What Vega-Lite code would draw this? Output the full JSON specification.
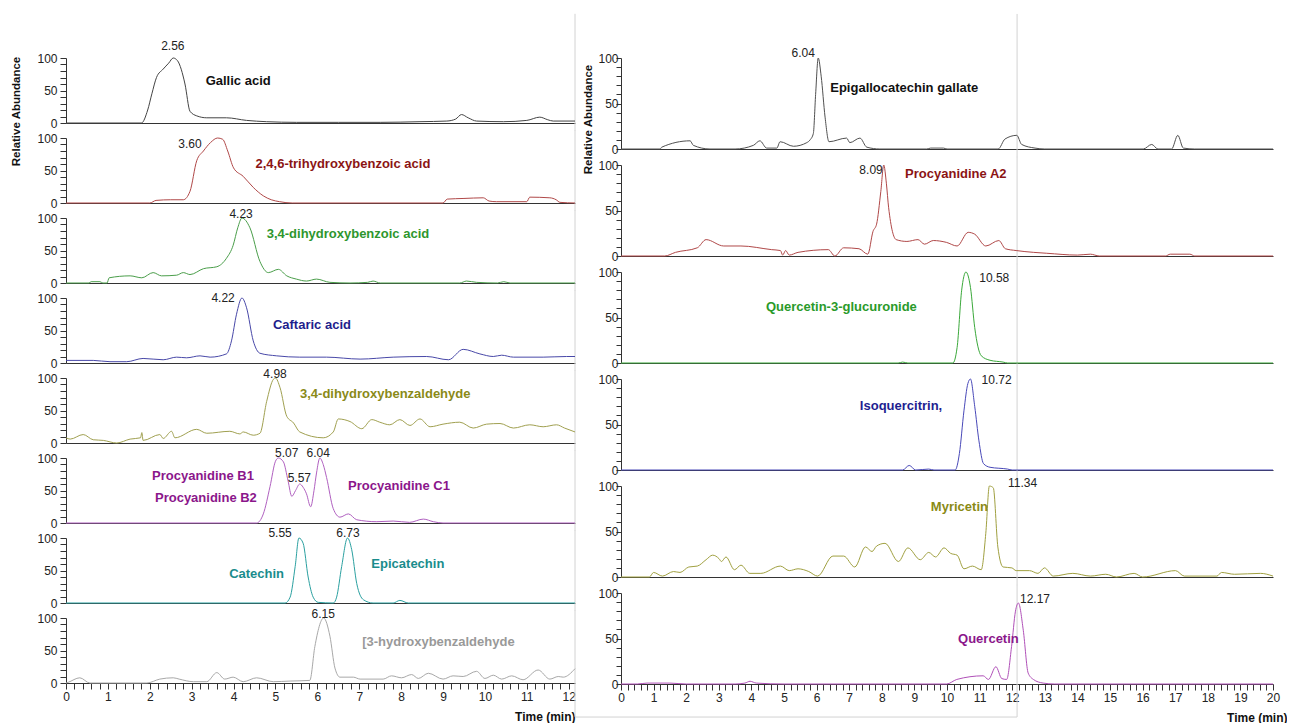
{
"$schema":"https://vega.github.io/schema/vega-lite/v6.json",
"background":"white",
"padding":{"left":10,"top":13,"right":0,"bottom":0},
"spacing":-3,
"datasets":{
"fr":[
{"p":"g1","t":12.15,"a":-12,"b":168,"t2":12.15},{"p":"g2","t":12.15,"a":-12,"b":112,"t2":12.15},{"p":"g3","t":12.15,"a":-12,"b":112,"t2":12.15},{"p":"g4","t":12.15,"a":-12,"b":112,"t2":12.15},{"p":"g5","t":12.15,"a":-12,"b":112,"t2":12.15},{"p":"g6","t":12.15,"a":-12,"b":112,"t2":12.15},{"p":"g7","t":12.15,"a":-12,"b":112,"t2":12.15},{"p":"g8","t":12.15,"a":-52,"b":112,"t2":12.15},
{"p":"r1","t":12.15,"a":-9,"b":148.4,"t2":12.15},{"p":"r2","t":12.15,"a":-9,"b":109,"t2":12.15},{"p":"r3","t":12.15,"a":-9,"b":109,"t2":12.15},{"p":"r4","t":12.15,"a":-9,"b":109,"t2":12.15},{"p":"r5","t":12.15,"a":-9,"b":109,"t2":12.15},{"p":"r6","t":12.15,"a":-36.3,"b":109,"t2":12.15},{"p":"r6","t":-1.41,"a":-36.3,"b":-36.3,"t2":12.15}
],
"tr":[
{"s":"g1","t":0,"v":0},{"s":"g1","t":1.8,"v":0},{"s":"g1","t":1.95,"v":20},{"s":"g1","t":2.05,"v":45},{"s":"g1","t":2.16,"v":70},{"s":"g1","t":2.32,"v":83},{"s":"g1","t":2.45,"v":92},{"s":"g1","t":2.56,"v":100},{"s":"g1","t":2.66,"v":96},{"s":"g1","t":2.84,"v":60},{"s":"g1","t":2.96,"v":18},{"s":"g1","t":3.12,"v":11},{"s":"g1","t":3.36,"v":8},{"s":"g1","t":3.83,"v":8},{"s":"g1","t":4.31,"v":4},{"s":"g1","t":4.79,"v":2},{"s":"g1","t":5.5,"v":1},{"s":"g1","t":6.5,"v":1},{"s":"g1","t":7.5,"v":1},{"s":"g1","t":8.45,"v":2},{"s":"g1","t":9.09,"v":3},{"s":"g1","t":9.3,"v":6},{"s":"g1","t":9.44,"v":13},{"s":"g1","t":9.6,"v":8},{"s":"g1","t":9.8,"v":3},{"s":"g1","t":10.44,"v":2},{"s":"g1","t":11.0,"v":4},{"s":"g1","t":11.31,"v":9},{"s":"g1","t":11.5,"v":5},{"s":"g1","t":11.63,"v":3},{"s":"g1","t":12.15,"v":3},
{"s":"g2","t":0,"v":0},{"s":"g2","t":2.0,"v":0},{"s":"g2","t":2.15,"v":4},{"s":"g2","t":2.5,"v":5},{"s":"g2","t":2.8,"v":5},{"s":"g2","t":2.96,"v":18},{"s":"g2","t":3.12,"v":65},{"s":"g2","t":3.28,"v":80},{"s":"g2","t":3.45,"v":93},{"s":"g2","t":3.62,"v":100},{"s":"g2","t":3.74,"v":98},{"s":"g2","t":3.86,"v":80},{"s":"g2","t":4.0,"v":54},{"s":"g2","t":4.23,"v":41},{"s":"g2","t":4.47,"v":24},{"s":"g2","t":4.71,"v":11},{"s":"g2","t":4.9,"v":5},{"s":"g2","t":5.1,"v":2},{"s":"g2","t":5.4,"v":0},{"s":"g2","t":9.0,"v":0},{"s":"g2","t":9.1,"v":6},{"s":"g2","t":9.5,"v":7},{"s":"g2","t":9.96,"v":8},{"s":"g2","t":10.1,"v":3},{"s":"g2","t":10.28,"v":2},{"s":"g2","t":11.0,"v":2},{"s":"g2","t":11.07,"v":9},{"s":"g2","t":11.55,"v":8},{"s":"g2","t":11.7,"v":5},{"s":"g2","t":11.79,"v":1},{"s":"g2","t":12.15,"v":0},
{"s":"g3","t":0,"v":0},{"s":"g3","t":0.55,"v":0},{"s":"g3","t":0.6,"v":2},{"s":"g3","t":0.81,"v":2},{"s":"g3","t":0.88,"v":0},{"s":"g3","t":0.98,"v":0},{"s":"g3","t":1.03,"v":8},{"s":"g3","t":1.53,"v":11},{"s":"g3","t":1.81,"v":8},{"s":"g3","t":2.08,"v":16},{"s":"g3","t":2.28,"v":11},{"s":"g3","t":2.64,"v":12},{"s":"g3","t":2.8,"v":16},{"s":"g3","t":2.96,"v":13},{"s":"g3","t":3.28,"v":22},{"s":"g3","t":3.6,"v":25},{"s":"g3","t":3.83,"v":38},{"s":"g3","t":3.99,"v":58},{"s":"g3","t":4.1,"v":85},{"s":"g3","t":4.2,"v":100},{"s":"g3","t":4.39,"v":85},{"s":"g3","t":4.63,"v":33},{"s":"g3","t":4.83,"v":16},{"s":"g3","t":5.07,"v":21},{"s":"g3","t":5.27,"v":11},{"s":"g3","t":5.5,"v":6},{"s":"g3","t":5.74,"v":3},{"s":"g3","t":5.98,"v":6},{"s":"g3","t":6.3,"v":1},{"s":"g3","t":6.78,"v":0},{"s":"g3","t":7.2,"v":1},{"s":"g3","t":7.33,"v":3},{"s":"g3","t":7.5,"v":0},{"s":"g3","t":9.4,"v":0},{"s":"g3","t":9.56,"v":3},{"s":"g3","t":9.8,"v":1},{"s":"g3","t":10.3,"v":0},{"s":"g3","t":10.45,"v":2},{"s":"g3","t":10.6,"v":0},{"s":"g3","t":12.15,"v":0},
{"s":"g4","t":0,"v":4},{"s":"g4","t":0.65,"v":4},{"s":"g4","t":1.05,"v":2},{"s":"g4","t":1.45,"v":2},{"s":"g4","t":1.84,"v":7},{"s":"g4","t":2.32,"v":5},{"s":"g4","t":2.64,"v":9},{"s":"g4","t":2.88,"v":8},{"s":"g4","t":3.2,"v":11},{"s":"g4","t":3.44,"v":9},{"s":"g4","t":3.83,"v":14},{"s":"g4","t":3.95,"v":34},{"s":"g4","t":4.07,"v":75},{"s":"g4","t":4.2,"v":100},{"s":"g4","t":4.31,"v":85},{"s":"g4","t":4.47,"v":34},{"s":"g4","t":4.63,"v":15},{"s":"g4","t":5.03,"v":11},{"s":"g4","t":5.58,"v":9},{"s":"g4","t":6.22,"v":9},{"s":"g4","t":7.02,"v":6},{"s":"g4","t":7.81,"v":9},{"s":"g4","t":8.61,"v":10},{"s":"g4","t":9.13,"v":5},{"s":"g4","t":9.48,"v":21},{"s":"g4","t":9.88,"v":14},{"s":"g4","t":10.2,"v":10},{"s":"g4","t":10.4,"v":12},{"s":"g4","t":10.68,"v":9},{"s":"g4","t":11.39,"v":9},{"s":"g4","t":11.95,"v":10},{"s":"g4","t":12.15,"v":10},
{"s":"g5","t":0,"v":8},{"s":"g5","t":0.1,"v":6},{"s":"g5","t":0.41,"v":13},{"s":"g5","t":0.65,"v":5},{"s":"g5","t":0.89,"v":4},{"s":"g5","t":1.21,"v":0},{"s":"g5","t":1.53,"v":6},{"s":"g5","t":1.78,"v":8},{"s":"g5","t":1.81,"v":16},{"s":"g5","t":1.84,"v":4},{"s":"g5","t":2.24,"v":13},{"s":"g5","t":2.32,"v":7},{"s":"g5","t":2.52,"v":18},{"s":"g5","t":2.6,"v":8},{"s":"g5","t":3.12,"v":21},{"s":"g5","t":3.36,"v":15},{"s":"g5","t":3.91,"v":18},{"s":"g5","t":4.15,"v":14},{"s":"g5","t":4.23,"v":17},{"s":"g5","t":4.47,"v":12},{"s":"g5","t":4.63,"v":15},{"s":"g5","t":4.79,"v":64},{"s":"g5","t":4.95,"v":98},{"s":"g5","t":5.0,"v":100},{"s":"g5","t":5.11,"v":85},{"s":"g5","t":5.27,"v":41},{"s":"g5","t":5.43,"v":31},{"s":"g5","t":5.58,"v":17},{"s":"g5","t":6.14,"v":8},{"s":"g5","t":6.38,"v":17},{"s":"g5","t":6.5,"v":37},{"s":"g5","t":6.78,"v":33},{"s":"g5","t":7.06,"v":22},{"s":"g5","t":7.3,"v":36},{"s":"g5","t":7.49,"v":32},{"s":"g5","t":7.73,"v":28},{"s":"g5","t":7.97,"v":36},{"s":"g5","t":8.21,"v":27},{"s":"g5","t":8.45,"v":37},{"s":"g5","t":8.69,"v":25},{"s":"g5","t":9.0,"v":29},{"s":"g5","t":9.4,"v":32},{"s":"g5","t":9.72,"v":23},{"s":"g5","t":10.04,"v":29},{"s":"g5","t":10.36,"v":30},{"s":"g5","t":10.68,"v":23},{"s":"g5","t":11.07,"v":28},{"s":"g5","t":11.39,"v":25},{"s":"g5","t":11.71,"v":28},{"s":"g5","t":11.9,"v":23},{"s":"g5","t":12.15,"v":17},
{"s":"g6","t":0,"v":0},{"s":"g6","t":4.55,"v":0},{"s":"g6","t":4.71,"v":14},{"s":"g6","t":4.87,"v":56},{"s":"g6","t":5.0,"v":95},{"s":"g6","t":5.07,"v":100},{"s":"g6","t":5.19,"v":94},{"s":"g6","t":5.3,"v":65},{"s":"g6","t":5.39,"v":41},{"s":"g6","t":5.48,"v":50},{"s":"g6","t":5.58,"v":60},{"s":"g6","t":5.66,"v":55},{"s":"g6","t":5.74,"v":45},{"s":"g6","t":5.84,"v":25},{"s":"g6","t":5.92,"v":50},{"s":"g6","t":5.98,"v":77},{"s":"g6","t":6.06,"v":100},{"s":"g6","t":6.14,"v":90},{"s":"g6","t":6.22,"v":70},{"s":"g6","t":6.38,"v":22},{"s":"g6","t":6.54,"v":9},{"s":"g6","t":6.74,"v":14},{"s":"g6","t":6.94,"v":5},{"s":"g6","t":7.42,"v":2},{"s":"g6","t":7.81,"v":3},{"s":"g6","t":8.2,"v":1},{"s":"g6","t":8.53,"v":6},{"s":"g6","t":8.77,"v":2},{"s":"g6","t":9.0,"v":0},{"s":"g6","t":12.15,"v":0},
{"s":"g7","t":0,"v":0},{"s":"g7","t":5.23,"v":0},{"s":"g7","t":5.35,"v":9},{"s":"g7","t":5.47,"v":56},{"s":"g7","t":5.56,"v":100},{"s":"g7","t":5.66,"v":92},{"s":"g7","t":5.78,"v":40},{"s":"g7","t":5.9,"v":9},{"s":"g7","t":6.02,"v":1},{"s":"g7","t":6.38,"v":0},{"s":"g7","t":6.46,"v":9},{"s":"g7","t":6.58,"v":56},{"s":"g7","t":6.72,"v":100},{"s":"g7","t":6.82,"v":82},{"s":"g7","t":6.94,"v":30},{"s":"g7","t":7.1,"v":5},{"s":"g7","t":7.33,"v":0},{"s":"g7","t":7.81,"v":0},{"s":"g7","t":7.97,"v":4},{"s":"g7","t":8.17,"v":0},{"s":"g7","t":12.15,"v":0},
{"s":"g8","t":0,"v":0},{"s":"g8","t":0.05,"v":1},{"s":"g8","t":0.33,"v":8},{"s":"g8","t":0.57,"v":0},{"s":"g8","t":1.93,"v":0},{"s":"g8","t":2.24,"v":6},{"s":"g8","t":2.56,"v":8},{"s":"g8","t":2.7,"v":6},{"s":"g8","t":3.04,"v":2},{"s":"g8","t":3.36,"v":2},{"s":"g8","t":3.6,"v":16},{"s":"g8","t":3.79,"v":6},{"s":"g8","t":3.99,"v":9},{"s":"g8","t":4.23,"v":2},{"s":"g8","t":4.55,"v":8},{"s":"g8","t":4.95,"v":2},{"s":"g8","t":5.35,"v":3},{"s":"g8","t":5.82,"v":4},{"s":"g8","t":5.94,"v":56},{"s":"g8","t":6.15,"v":100},{"s":"g8","t":6.3,"v":72},{"s":"g8","t":6.42,"v":23},{"s":"g8","t":6.54,"v":9},{"s":"g8","t":6.86,"v":9},{"s":"g8","t":7.02,"v":6},{"s":"g8","t":7.57,"v":6},{"s":"g8","t":7.77,"v":11},{"s":"g8","t":8.01,"v":8},{"s":"g8","t":8.25,"v":13},{"s":"g8","t":8.41,"v":7},{"s":"g8","t":8.65,"v":15},{"s":"g8","t":9.0,"v":6},{"s":"g8","t":9.24,"v":11},{"s":"g8","t":9.48,"v":10},{"s":"g8","t":9.8,"v":18},{"s":"g8","t":10.0,"v":7},{"s":"g8","t":10.2,"v":12},{"s":"g8","t":10.4,"v":6},{"s":"g8","t":10.64,"v":11},{"s":"g8","t":10.91,"v":5},{"s":"g8","t":11.27,"v":20},{"s":"g8","t":11.55,"v":6},{"s":"g8","t":11.75,"v":10},{"s":"g8","t":11.87,"v":9},{"s":"g8","t":12.15,"v":22},
{"s":"r1","t":0,"v":0},{"s":"r1","t":1.2,"v":0},{"s":"r1","t":1.25,"v":2},{"s":"r1","t":2.12,"v":9},{"s":"r1","t":2.22,"v":4},{"s":"r1","t":2.73,"v":0},{"s":"r1","t":3.5,"v":0},{"s":"r1","t":4.06,"v":4},{"s":"r1","t":4.26,"v":9},{"s":"r1","t":4.47,"v":1},{"s":"r1","t":4.78,"v":1},{"s":"r1","t":4.88,"v":8},{"s":"r1","t":5.29,"v":3},{"s":"r1","t":5.7,"v":7},{"s":"r1","t":5.8,"v":10},{"s":"r1","t":5.9,"v":17},{"s":"r1","t":5.97,"v":60},{"s":"r1","t":6.05,"v":100},{"s":"r1","t":6.14,"v":80},{"s":"r1","t":6.26,"v":35},{"s":"r1","t":6.38,"v":8},{"s":"r1","t":6.92,"v":12},{"s":"r1","t":7.02,"v":7},{"s":"r1","t":7.33,"v":12},{"s":"r1","t":7.54,"v":2},{"s":"r1","t":7.94,"v":0},{"s":"r1","t":9.38,"v":0},{"s":"r1","t":9.5,"v":1},{"s":"r1","t":9.89,"v":1},{"s":"r1","t":10.0,"v":0},{"s":"r1","t":11.57,"v":0},{"s":"r1","t":11.78,"v":11},{"s":"r1","t":12.14,"v":15},{"s":"r1","t":12.29,"v":5},{"s":"r1","t":12.7,"v":1},{"s":"r1","t":13.0,"v":0},{"s":"r1","t":16.02,"v":0},{"s":"r1","t":16.28,"v":5},{"s":"r1","t":16.47,"v":0},{"s":"r1","t":16.89,"v":0},{"s":"r1","t":17.08,"v":15},{"s":"r1","t":17.25,"v":1},{"s":"r1","t":17.6,"v":0},{"s":"r1","t":20,"v":0},
{"s":"r2","t":0,"v":0},{"s":"r2","t":1.34,"v":0},{"s":"r2","t":1.67,"v":4},{"s":"r2","t":2.34,"v":9},{"s":"r2","t":2.61,"v":18},{"s":"r2","t":3.15,"v":11},{"s":"r2","t":3.68,"v":11},{"s":"r2","t":4.62,"v":7},{"s":"r2","t":4.89,"v":6},{"s":"r2","t":4.96,"v":1},{"s":"r2","t":5.05,"v":6},{"s":"r2","t":5.16,"v":1},{"s":"r2","t":5.43,"v":4},{"s":"r2","t":6.36,"v":7},{"s":"r2","t":6.56,"v":0},{"s":"r2","t":6.83,"v":9},{"s":"r2","t":7.3,"v":8},{"s":"r2","t":7.57,"v":2},{"s":"r2","t":7.73,"v":27},{"s":"r2","t":7.84,"v":35},{"s":"r2","t":7.97,"v":71},{"s":"r2","t":8.06,"v":100},{"s":"r2","t":8.14,"v":80},{"s":"r2","t":8.21,"v":53},{"s":"r2","t":8.44,"v":18},{"s":"r2","t":8.77,"v":16},{"s":"r2","t":9.11,"v":18},{"s":"r2","t":9.31,"v":13},{"s":"r2","t":9.58,"v":17},{"s":"r2","t":9.98,"v":15},{"s":"r2","t":10.31,"v":11},{"s":"r2","t":10.65,"v":26},{"s":"r2","t":10.85,"v":24},{"s":"r2","t":11.19,"v":11},{"s":"r2","t":11.59,"v":17},{"s":"r2","t":11.79,"v":8},{"s":"r2","t":12.12,"v":6},{"s":"r2","t":12.66,"v":4},{"s":"r2","t":13.06,"v":3},{"s":"r2","t":14.0,"v":1},{"s":"r2","t":14.4,"v":2},{"s":"r2","t":14.67,"v":0},{"s":"r2","t":16.7,"v":0},{"s":"r2","t":16.85,"v":2},{"s":"r2","t":17.45,"v":2},{"s":"r2","t":17.6,"v":0},{"s":"r2","t":20,"v":0},
{"s":"r3","t":0,"v":0},{"s":"r3","t":8.5,"v":0},{"s":"r3","t":8.64,"v":1},{"s":"r3","t":8.8,"v":0},{"s":"r3","t":10.18,"v":0},{"s":"r3","t":10.31,"v":17},{"s":"r3","t":10.45,"v":80},{"s":"r3","t":10.58,"v":100},{"s":"r3","t":10.72,"v":83},{"s":"r3","t":10.85,"v":39},{"s":"r3","t":11.05,"v":8},{"s":"r3","t":11.32,"v":3},{"s":"r3","t":11.72,"v":1},{"s":"r3","t":11.86,"v":0},{"s":"r3","t":20,"v":0},
{"s":"r4","t":0,"v":0},{"s":"r4","t":8.64,"v":0},{"s":"r4","t":8.84,"v":5},{"s":"r4","t":9.04,"v":0},{"s":"r4","t":9.44,"v":1},{"s":"r4","t":9.6,"v":0},{"s":"r4","t":10.25,"v":0},{"s":"r4","t":10.38,"v":18},{"s":"r4","t":10.52,"v":65},{"s":"r4","t":10.64,"v":95},{"s":"r4","t":10.72,"v":100},{"s":"r4","t":10.85,"v":70},{"s":"r4","t":10.98,"v":32},{"s":"r4","t":11.12,"v":7},{"s":"r4","t":11.32,"v":3},{"s":"r4","t":11.86,"v":1},{"s":"r4","t":12.0,"v":0},{"s":"r4","t":20,"v":0},
{"s":"r5","t":0,"v":0},{"s":"r5","t":0.87,"v":0},{"s":"r5","t":1.0,"v":5},{"s":"r5","t":1.27,"v":1},{"s":"r5","t":1.61,"v":6},{"s":"r5","t":1.81,"v":5},{"s":"r5","t":2.08,"v":11},{"s":"r5","t":2.34,"v":12},{"s":"r5","t":2.61,"v":19},{"s":"r5","t":2.81,"v":24},{"s":"r5","t":3.01,"v":20},{"s":"r5","t":3.08,"v":17},{"s":"r5","t":3.22,"v":22},{"s":"r5","t":3.48,"v":8},{"s":"r5","t":3.68,"v":13},{"s":"r5","t":3.95,"v":4},{"s":"r5","t":4.29,"v":4},{"s":"r5","t":4.89,"v":12},{"s":"r5","t":5.16,"v":7},{"s":"r5","t":5.43,"v":9},{"s":"r5","t":5.76,"v":6},{"s":"r5","t":6.03,"v":1},{"s":"r5","t":6.5,"v":23},{"s":"r5","t":6.83,"v":23},{"s":"r5","t":7.17,"v":11},{"s":"r5","t":7.5,"v":33},{"s":"r5","t":7.7,"v":28},{"s":"r5","t":7.84,"v":34},{"s":"r5","t":8.1,"v":37},{"s":"r5","t":8.51,"v":17},{"s":"r5","t":8.8,"v":32},{"s":"r5","t":9.18,"v":19},{"s":"r5","t":9.44,"v":27},{"s":"r5","t":9.65,"v":22},{"s":"r5","t":9.91,"v":32},{"s":"r5","t":10.11,"v":26},{"s":"r5","t":10.31,"v":24},{"s":"r5","t":10.52,"v":9},{"s":"r5","t":10.78,"v":12},{"s":"r5","t":11.05,"v":8},{"s":"r5","t":11.19,"v":48},{"s":"r5","t":11.3,"v":100},{"s":"r5","t":11.42,"v":98},{"s":"r5","t":11.56,"v":33},{"s":"r5","t":11.72,"v":11},{"s":"r5","t":11.99,"v":10},{"s":"r5","t":12.12,"v":7},{"s":"r5","t":12.53,"v":7},{"s":"r5","t":12.79,"v":4},{"s":"r5","t":12.99,"v":10},{"s":"r5","t":13.26,"v":1},{"s":"r5","t":13.86,"v":4},{"s":"r5","t":14.4,"v":1},{"s":"r5","t":14.87,"v":3},{"s":"r5","t":15.2,"v":0},{"s":"r5","t":15.74,"v":4},{"s":"r5","t":16.0,"v":0},{"s":"r5","t":17.01,"v":7},{"s":"r5","t":17.28,"v":1},{"s":"r5","t":18.28,"v":1},{"s":"r5","t":18.42,"v":5},{"s":"r5","t":18.82,"v":3},{"s":"r5","t":19.62,"v":4},{"s":"r5","t":20,"v":1},
{"s":"r6","t":0,"v":0},{"s":"r6","t":0.5,"v":0},{"s":"r6","t":0.8,"v":1},{"s":"r6","t":1.5,"v":1},{"s":"r6","t":2.0,"v":0},{"s":"r6","t":3.5,"v":0},{"s":"r6","t":3.8,"v":1},{"s":"r6","t":3.96,"v":3},{"s":"r6","t":4.15,"v":1},{"s":"r6","t":5.0,"v":0},{"s":"r6","t":9.99,"v":0},{"s":"r6","t":10.3,"v":5},{"s":"r6","t":11.11,"v":9},{"s":"r6","t":11.27,"v":5},{"s":"r6","t":11.5,"v":19},{"s":"r6","t":11.68,"v":6},{"s":"r6","t":11.83,"v":5},{"s":"r6","t":11.98,"v":41},{"s":"r6","t":12.1,"v":80},{"s":"r6","t":12.19,"v":89},{"s":"r6","t":12.34,"v":59},{"s":"r6","t":12.49,"v":12},{"s":"r6","t":12.65,"v":5},{"s":"r6","t":12.95,"v":1},{"s":"r6","t":13.3,"v":0},{"s":"r6","t":20,"v":0}
],
"lb":[
{"s":"g1","k":"n","t":2.55,"v":118,"txt":"2.56"},{"s":"g1","k":"c","t":4.11,"v":65,"txt":"Gallic acid"},
{"s":"g2","k":"n","t":2.96,"v":91,"txt":"3.60"},{"s":"g2","k":"c","t":6.61,"v":60,"txt":"2,4,6-trihydroxybenzoic acid"},
{"s":"g3","k":"n","t":4.18,"v":106,"txt":"4.23"},{"s":"g3","k":"c","t":6.73,"v":75,"txt":"3,4-dihydroxybenzoic acid"},
{"s":"g4","k":"n","t":3.75,"v":100,"txt":"4.22"},{"s":"g4","k":"c","t":5.87,"v":58,"txt":"Caftaric acid"},
{"s":"g5","k":"n","t":4.99,"v":106,"txt":"4.98"},{"s":"g5","k":"c","t":7.62,"v":75,"txt":"3,4-dihydroxybenzaldehyde"},
{"s":"g6","k":"n","t":5.27,"v":108,"txt":"5.07"},{"s":"g6","k":"n","t":5.57,"v":69,"txt":"5.57"},{"s":"g6","k":"n","t":6.02,"v":108,"txt":"6.04"},{"s":"g6","k":"c","t":3.27,"v":72,"txt":"Procyanidine B1"},{"s":"g6","k":"c","t":3.34,"v":39,"txt":"Procyanidine B2"},{"s":"g6","k":"c","t":7.95,"v":57,"txt":"Procyanidine C1"},
{"s":"g7","k":"n","t":5.11,"v":108,"txt":"5.55"},{"s":"g7","k":"n","t":6.73,"v":108,"txt":"6.73"},{"s":"g7","k":"c","t":4.55,"v":45,"txt":"Catechin"},{"s":"g7","k":"c","t":8.16,"v":60,"txt":"Epicatechin"},
{"s":"g8","k":"n","t":6.14,"v":106,"txt":"6.15"},{"s":"g8","k":"c","t":8.89,"v":63,"txt":"[3-hydroxybenzaldehyde"},
{"s":"r1","k":"n","t":5.59,"v":105,"txt":"6.04"},{"s":"r1","k":"c","t":8.69,"v":67,"txt":"Epigallocatechin gallate"},
{"s":"r2","k":"n","t":7.67,"v":95,"txt":"8.09"},{"s":"r2","k":"c","t":10.27,"v":90,"txt":"Procyanidine A2"},
{"s":"r3","k":"n","t":11.45,"v":93,"txt":"10.58"},{"s":"r3","k":"c","t":6.76,"v":61,"txt":"Quercetin-3-glucuronide"},
{"s":"r4","k":"n","t":11.52,"v":99,"txt":"10.72"},{"s":"r4","k":"c","t":8.59,"v":70,"txt":"Isoquercitrin,"},
{"s":"r5","k":"n","t":12.32,"v":103,"txt":"11.34"},{"s":"r5","k":"c","t":10.38,"v":77,"txt":"Myricetin"},
{"s":"r6","k":"n","t":12.7,"v":93,"txt":"12.17"},{"s":"r6","k":"c","t":11.27,"v":49,"txt":"Quercetin"}
]
},
"hconcat":[
{"bounds":"flush","spacing":15,"vconcat":[
{"width":509,"height":65,"encoding":{"x":{"field":"t","type":"quantitative","scale":{"domain":[0,12.15],"nice":false,"zero":false},"axis":{"labels":false,"ticks":false,"title":null}},"y":{"field":"v","type":"quantitative","scale":{"domain":[0,100],"nice":false},"axis":{"values":[0,10,20,30,40,50,60,70,80,90,100],"labelExpr":"datum.value % 50 === 0 ? datum.label : ''","labelOverlap":false,"tickSize":6,"labelPadding":3,"title":"Relative Abundance","titleFontSize":11.5,"titlePadding":15,"titleY":53}}},
"layer":[
{"data":{"name":"fr"},"transform":[{"filter":"datum.p==='g1'"}],"mark":{"type":"rule","color":"#d2d2d2","strokeWidth":1},"encoding":{"y":{"field":"a","type":"quantitative"},"y2":{"field":"b"},"x2":{"field":"t2"}}},
{"data":{"name":"tr"},"transform":[{"filter":"datum.s==='g1'"}],"mark":{"type":"line","color":"#444444","strokeWidth":1,"interpolate":"monotone"}},
{"data":{"name":"lb"},"transform":[{"filter":"datum.s==='g1' && datum.k==='n'"}],"mark":{"type":"text","fontSize":12,"color":"#222222"},"encoding":{"text":{"field":"txt"}}},
{"data":{"name":"lb"},"transform":[{"filter":"datum.s==='g1' && datum.k==='c'"}],"mark":{"type":"text","fontSize":13,"fontWeight":"bold","color":"#111111"},"encoding":{"text":{"field":"txt"}}}
]},
{"width":509,"height":65,"encoding":{"x":{"field":"t","type":"quantitative","scale":{"domain":[0,12.15],"nice":false,"zero":false},"axis":{"labels":false,"ticks":false,"title":null}},"y":{"field":"v","type":"quantitative","scale":{"domain":[0,100],"nice":false},"axis":{"values":[0,10,20,30,40,50,60,70,80,90,100],"labelExpr":"datum.value % 50 === 0 ? datum.label : ''","labelOverlap":false,"tickSize":6,"labelPadding":3,"title":null}}},
"layer":[
{"data":{"name":"fr"},"transform":[{"filter":"datum.p==='g2'"}],"mark":{"type":"rule","color":"#d2d2d2","strokeWidth":1},"encoding":{"y":{"field":"a","type":"quantitative"},"y2":{"field":"b"},"x2":{"field":"t2"}}},
{"data":{"name":"tr"},"transform":[{"filter":"datum.s==='g2'"}],"mark":{"type":"line","color":"#b04848","strokeWidth":1,"interpolate":"monotone"}},
{"data":{"name":"lb"},"transform":[{"filter":"datum.s==='g2' && datum.k==='n'"}],"mark":{"type":"text","fontSize":12,"color":"#222222"},"encoding":{"text":{"field":"txt"}}},
{"data":{"name":"lb"},"transform":[{"filter":"datum.s==='g2' && datum.k==='c'"}],"mark":{"type":"text","fontSize":13,"fontWeight":"bold","color":"#8b1414"},"encoding":{"text":{"field":"txt"}}}
]},
{"width":509,"height":65,"encoding":{"x":{"field":"t","type":"quantitative","scale":{"domain":[0,12.15],"nice":false,"zero":false},"axis":{"labels":false,"ticks":false,"title":null}},"y":{"field":"v","type":"quantitative","scale":{"domain":[0,100],"nice":false},"axis":{"values":[0,10,20,30,40,50,60,70,80,90,100],"labelExpr":"datum.value % 50 === 0 ? datum.label : ''","labelOverlap":false,"tickSize":6,"labelPadding":3,"title":null}}},
"layer":[
{"data":{"name":"fr"},"transform":[{"filter":"datum.p==='g3'"}],"mark":{"type":"rule","color":"#d2d2d2","strokeWidth":1},"encoding":{"y":{"field":"a","type":"quantitative"},"y2":{"field":"b"},"x2":{"field":"t2"}}},
{"data":{"name":"tr"},"transform":[{"filter":"datum.s==='g3'"}],"mark":{"type":"line","color":"#4a9e4a","strokeWidth":1,"interpolate":"monotone"}},
{"data":{"name":"lb"},"transform":[{"filter":"datum.s==='g3' && datum.k==='n'"}],"mark":{"type":"text","fontSize":12,"color":"#222222"},"encoding":{"text":{"field":"txt"}}},
{"data":{"name":"lb"},"transform":[{"filter":"datum.s==='g3' && datum.k==='c'"}],"mark":{"type":"text","fontSize":13,"fontWeight":"bold","color":"#2e962e"},"encoding":{"text":{"field":"txt"}}}
]},
{"width":509,"height":65,"encoding":{"x":{"field":"t","type":"quantitative","scale":{"domain":[0,12.15],"nice":false,"zero":false},"axis":{"labels":false,"ticks":false,"title":null}},"y":{"field":"v","type":"quantitative","scale":{"domain":[0,100],"nice":false},"axis":{"values":[0,10,20,30,40,50,60,70,80,90,100],"labelExpr":"datum.value % 50 === 0 ? datum.label : ''","labelOverlap":false,"tickSize":6,"labelPadding":3,"title":null}}},
"layer":[
{"data":{"name":"fr"},"transform":[{"filter":"datum.p==='g4'"}],"mark":{"type":"rule","color":"#d2d2d2","strokeWidth":1},"encoding":{"y":{"field":"a","type":"quantitative"},"y2":{"field":"b"},"x2":{"field":"t2"}}},
{"data":{"name":"tr"},"transform":[{"filter":"datum.s==='g4'"}],"mark":{"type":"line","color":"#4848a8","strokeWidth":1,"interpolate":"monotone"}},
{"data":{"name":"lb"},"transform":[{"filter":"datum.s==='g4' && datum.k==='n'"}],"mark":{"type":"text","fontSize":12,"color":"#222222"},"encoding":{"text":{"field":"txt"}}},
{"data":{"name":"lb"},"transform":[{"filter":"datum.s==='g4' && datum.k==='c'"}],"mark":{"type":"text","fontSize":13,"fontWeight":"bold","color":"#1e1e8c"},"encoding":{"text":{"field":"txt"}}}
]},
{"width":509,"height":65,"encoding":{"x":{"field":"t","type":"quantitative","scale":{"domain":[0,12.15],"nice":false,"zero":false},"axis":{"labels":false,"ticks":false,"title":null}},"y":{"field":"v","type":"quantitative","scale":{"domain":[0,100],"nice":false},"axis":{"values":[0,10,20,30,40,50,60,70,80,90,100],"labelExpr":"datum.value % 50 === 0 ? datum.label : ''","labelOverlap":false,"tickSize":6,"labelPadding":3,"title":null}}},
"layer":[
{"data":{"name":"fr"},"transform":[{"filter":"datum.p==='g5'"}],"mark":{"type":"rule","color":"#d2d2d2","strokeWidth":1},"encoding":{"y":{"field":"a","type":"quantitative"},"y2":{"field":"b"},"x2":{"field":"t2"}}},
{"data":{"name":"tr"},"transform":[{"filter":"datum.s==='g5'"}],"mark":{"type":"line","color":"#a0a050","strokeWidth":1,"interpolate":"monotone"}},
{"data":{"name":"lb"},"transform":[{"filter":"datum.s==='g5' && datum.k==='n'"}],"mark":{"type":"text","fontSize":12,"color":"#222222"},"encoding":{"text":{"field":"txt"}}},
{"data":{"name":"lb"},"transform":[{"filter":"datum.s==='g5' && datum.k==='c'"}],"mark":{"type":"text","fontSize":13,"fontWeight":"bold","color":"#8a8a18"},"encoding":{"text":{"field":"txt"}}}
]},
{"width":509,"height":65,"encoding":{"x":{"field":"t","type":"quantitative","scale":{"domain":[0,12.15],"nice":false,"zero":false},"axis":{"labels":false,"ticks":false,"title":null}},"y":{"field":"v","type":"quantitative","scale":{"domain":[0,100],"nice":false},"axis":{"values":[0,10,20,30,40,50,60,70,80,90,100],"labelExpr":"datum.value % 50 === 0 ? datum.label : ''","labelOverlap":false,"tickSize":6,"labelPadding":3,"title":null}}},
"layer":[
{"data":{"name":"fr"},"transform":[{"filter":"datum.p==='g6'"}],"mark":{"type":"rule","color":"#d2d2d2","strokeWidth":1},"encoding":{"y":{"field":"a","type":"quantitative"},"y2":{"field":"b"},"x2":{"field":"t2"}}},
{"data":{"name":"tr"},"transform":[{"filter":"datum.s==='g6'"}],"mark":{"type":"line","color":"#b060c0","strokeWidth":1,"interpolate":"monotone"}},
{"data":{"name":"lb"},"transform":[{"filter":"datum.s==='g6' && datum.k==='n'"}],"mark":{"type":"text","fontSize":12,"color":"#222222"},"encoding":{"text":{"field":"txt"}}},
{"data":{"name":"lb"},"transform":[{"filter":"datum.s==='g6' && datum.k==='c'"}],"mark":{"type":"text","fontSize":13,"fontWeight":"bold","color":"#8b168b"},"encoding":{"text":{"field":"txt"}}}
]},
{"width":509,"height":65,"encoding":{"x":{"field":"t","type":"quantitative","scale":{"domain":[0,12.15],"nice":false,"zero":false},"axis":{"labels":false,"ticks":false,"title":null}},"y":{"field":"v","type":"quantitative","scale":{"domain":[0,100],"nice":false},"axis":{"values":[0,10,20,30,40,50,60,70,80,90,100],"labelExpr":"datum.value % 50 === 0 ? datum.label : ''","labelOverlap":false,"tickSize":6,"labelPadding":3,"title":null}}},
"layer":[
{"data":{"name":"fr"},"transform":[{"filter":"datum.p==='g7'"}],"mark":{"type":"rule","color":"#d2d2d2","strokeWidth":1},"encoding":{"y":{"field":"a","type":"quantitative"},"y2":{"field":"b"},"x2":{"field":"t2"}}},
{"data":{"name":"tr"},"transform":[{"filter":"datum.s==='g7'"}],"mark":{"type":"line","color":"#2aa0a0","strokeWidth":1,"interpolate":"monotone"}},
{"data":{"name":"lb"},"transform":[{"filter":"datum.s==='g7' && datum.k==='n'"}],"mark":{"type":"text","fontSize":12,"color":"#222222"},"encoding":{"text":{"field":"txt"}}},
{"data":{"name":"lb"},"transform":[{"filter":"datum.s==='g7' && datum.k==='c'"}],"mark":{"type":"text","fontSize":13,"fontWeight":"bold","color":"#1a8c8c"},"encoding":{"text":{"field":"txt"}}}
]},
{"width":509,"height":65,"encoding":{"x":{"field":"t","type":"quantitative","scale":{"domain":[0,12.15],"nice":false,"zero":false},"axis":{"values":[0,0.2,0.4,0.6,0.8,1,1.2,1.4,1.6,1.8,2,2.2,2.4,2.6,2.8,3,3.2,3.4,3.6,3.8,4,4.2,4.4,4.6,4.8,5,5.2,5.4,5.6,5.8,6,6.2,6.4,6.6,6.8,7,7.2,7.4,7.6,7.8,8,8.2,8.4,8.6,8.8,9,9.2,9.4,9.6,9.8,10,10.2,10.4,10.6,10.8,11,11.2,11.4,11.6,11.8,12],"labelExpr":"datum.value % 1 === 0 ? format(datum.value, 'd') : ''","labelOverlap":false,"labelFlush":false,"tickSize":6,"labelPadding":2,"title":"Time (min)","titleAnchor":"end","titleAlign":"right","titlePadding":9}},"y":{"field":"v","type":"quantitative","scale":{"domain":[0,100],"nice":false},"axis":{"values":[0,10,20,30,40,50,60,70,80,90,100],"labelExpr":"datum.value % 50 === 0 ? datum.label : ''","labelOverlap":false,"tickSize":6,"labelPadding":3,"title":null}}},
"layer":[
{"data":{"name":"fr"},"transform":[{"filter":"datum.p==='g8'"}],"mark":{"type":"rule","color":"#d2d2d2","strokeWidth":1},"encoding":{"y":{"field":"a","type":"quantitative"},"y2":{"field":"b"},"x2":{"field":"t2"}}},
{"data":{"name":"tr"},"transform":[{"filter":"datum.s==='g8'"}],"mark":{"type":"line","color":"#a8a8a8","strokeWidth":1,"interpolate":"monotone"}},
{"data":{"name":"lb"},"transform":[{"filter":"datum.s==='g8' && datum.k==='n'"}],"mark":{"type":"text","fontSize":12,"color":"#222222"},"encoding":{"text":{"field":"txt"}}},
{"data":{"name":"lb"},"transform":[{"filter":"datum.s==='g8' && datum.k==='c'"}],"mark":{"type":"text","fontSize":13,"fontWeight":"bold","color":"#999999"},"encoding":{"text":{"field":"txt"}}}
]}
]},
{"bounds":"flush","spacing":16,"vconcat":[
{"width":652,"height":91,"encoding":{"x":{"field":"t","type":"quantitative","scale":{"domain":[0,20],"nice":false,"zero":false},"axis":{"labels":false,"ticks":false,"title":null}},"y":{"field":"v","type":"quantitative","scale":{"domain":[0,100],"nice":false},"axis":{"values":[0,10,20,30,40,50,60,70,80,90,100],"labelExpr":"datum.value % 50 === 0 ? datum.label : ''","labelOverlap":false,"tickSize":5,"labelPadding":-2,"title":"Relative Abundance","titleFontSize":11.5,"titlePadding":4,"titleY":61}}},
"layer":[
{"data":{"name":"fr"},"transform":[{"filter":"datum.p==='r1'"}],"mark":{"type":"rule","color":"#d2d2d2","strokeWidth":1},"encoding":{"y":{"field":"a","type":"quantitative"},"y2":{"field":"b"},"x2":{"field":"t2"}}},
{"data":{"name":"tr"},"transform":[{"filter":"datum.s==='r1'"}],"mark":{"type":"line","color":"#505050","strokeWidth":1,"interpolate":"monotone"}},
{"data":{"name":"lb"},"transform":[{"filter":"datum.s==='r1' && datum.k==='n'"}],"mark":{"type":"text","fontSize":12,"color":"#222222"},"encoding":{"text":{"field":"txt"}}},
{"data":{"name":"lb"},"transform":[{"filter":"datum.s==='r1' && datum.k==='c'"}],"mark":{"type":"text","fontSize":13,"fontWeight":"bold","color":"#111111"},"encoding":{"text":{"field":"txt"}}}
]},
{"width":652,"height":91,"encoding":{"x":{"field":"t","type":"quantitative","scale":{"domain":[0,20],"nice":false,"zero":false},"axis":{"labels":false,"ticks":false,"title":null}},"y":{"field":"v","type":"quantitative","scale":{"domain":[0,100],"nice":false},"axis":{"values":[0,10,20,30,40,50,60,70,80,90,100],"labelExpr":"datum.value % 50 === 0 ? datum.label : ''","labelOverlap":false,"tickSize":5,"labelPadding":-2,"title":null}}},
"layer":[
{"data":{"name":"fr"},"transform":[{"filter":"datum.p==='r2'"}],"mark":{"type":"rule","color":"#d2d2d2","strokeWidth":1},"encoding":{"y":{"field":"a","type":"quantitative"},"y2":{"field":"b"},"x2":{"field":"t2"}}},
{"data":{"name":"tr"},"transform":[{"filter":"datum.s==='r2'"}],"mark":{"type":"line","color":"#b04848","strokeWidth":1,"interpolate":"monotone"}},
{"data":{"name":"lb"},"transform":[{"filter":"datum.s==='r2' && datum.k==='n'"}],"mark":{"type":"text","fontSize":12,"color":"#222222"},"encoding":{"text":{"field":"txt"}}},
{"data":{"name":"lb"},"transform":[{"filter":"datum.s==='r2' && datum.k==='c'"}],"mark":{"type":"text","fontSize":13,"fontWeight":"bold","color":"#8b1414"},"encoding":{"text":{"field":"txt"}}}
]},
{"width":652,"height":91,"encoding":{"x":{"field":"t","type":"quantitative","scale":{"domain":[0,20],"nice":false,"zero":false},"axis":{"labels":false,"ticks":false,"title":null}},"y":{"field":"v","type":"quantitative","scale":{"domain":[0,100],"nice":false},"axis":{"values":[0,10,20,30,40,50,60,70,80,90,100],"labelExpr":"datum.value % 50 === 0 ? datum.label : ''","labelOverlap":false,"tickSize":5,"labelPadding":-2,"title":null}}},
"layer":[
{"data":{"name":"fr"},"transform":[{"filter":"datum.p==='r3'"}],"mark":{"type":"rule","color":"#d2d2d2","strokeWidth":1},"encoding":{"y":{"field":"a","type":"quantitative"},"y2":{"field":"b"},"x2":{"field":"t2"}}},
{"data":{"name":"tr"},"transform":[{"filter":"datum.s==='r3'"}],"mark":{"type":"line","color":"#3aa83a","strokeWidth":1,"interpolate":"monotone"}},
{"data":{"name":"lb"},"transform":[{"filter":"datum.s==='r3' && datum.k==='n'"}],"mark":{"type":"text","fontSize":12,"color":"#222222"},"encoding":{"text":{"field":"txt"}}},
{"data":{"name":"lb"},"transform":[{"filter":"datum.s==='r3' && datum.k==='c'"}],"mark":{"type":"text","fontSize":13,"fontWeight":"bold","color":"#2a9a2a"},"encoding":{"text":{"field":"txt"}}}
]},
{"width":652,"height":91,"encoding":{"x":{"field":"t","type":"quantitative","scale":{"domain":[0,20],"nice":false,"zero":false},"axis":{"labels":false,"ticks":false,"title":null}},"y":{"field":"v","type":"quantitative","scale":{"domain":[0,100],"nice":false},"axis":{"values":[0,10,20,30,40,50,60,70,80,90,100],"labelExpr":"datum.value % 50 === 0 ? datum.label : ''","labelOverlap":false,"tickSize":5,"labelPadding":-2,"title":null}}},
"layer":[
{"data":{"name":"fr"},"transform":[{"filter":"datum.p==='r4'"}],"mark":{"type":"rule","color":"#d2d2d2","strokeWidth":1},"encoding":{"y":{"field":"a","type":"quantitative"},"y2":{"field":"b"},"x2":{"field":"t2"}}},
{"data":{"name":"tr"},"transform":[{"filter":"datum.s==='r4'"}],"mark":{"type":"line","color":"#4848b8","strokeWidth":1,"interpolate":"monotone"}},
{"data":{"name":"lb"},"transform":[{"filter":"datum.s==='r4' && datum.k==='n'"}],"mark":{"type":"text","fontSize":12,"color":"#222222"},"encoding":{"text":{"field":"txt"}}},
{"data":{"name":"lb"},"transform":[{"filter":"datum.s==='r4' && datum.k==='c'"}],"mark":{"type":"text","fontSize":13,"fontWeight":"bold","color":"#1e1e90"},"encoding":{"text":{"field":"txt"}}}
]},
{"width":652,"height":91,"encoding":{"x":{"field":"t","type":"quantitative","scale":{"domain":[0,20],"nice":false,"zero":false},"axis":{"labels":false,"ticks":false,"title":null}},"y":{"field":"v","type":"quantitative","scale":{"domain":[0,100],"nice":false},"axis":{"values":[0,10,20,30,40,50,60,70,80,90,100],"labelExpr":"datum.value % 50 === 0 ? datum.label : ''","labelOverlap":false,"tickSize":5,"labelPadding":-2,"title":null}}},
"layer":[
{"data":{"name":"fr"},"transform":[{"filter":"datum.p==='r5'"}],"mark":{"type":"rule","color":"#d2d2d2","strokeWidth":1},"encoding":{"y":{"field":"a","type":"quantitative"},"y2":{"field":"b"},"x2":{"field":"t2"}}},
{"data":{"name":"tr"},"transform":[{"filter":"datum.s==='r5'"}],"mark":{"type":"line","color":"#a0a040","strokeWidth":1,"interpolate":"monotone"}},
{"data":{"name":"lb"},"transform":[{"filter":"datum.s==='r5' && datum.k==='n'"}],"mark":{"type":"text","fontSize":12,"color":"#222222"},"encoding":{"text":{"field":"txt"}}},
{"data":{"name":"lb"},"transform":[{"filter":"datum.s==='r5' && datum.k==='c'"}],"mark":{"type":"text","fontSize":13,"fontWeight":"bold","color":"#8a8a14"},"encoding":{"text":{"field":"txt"}}}
]},
{"width":652,"height":91,"encoding":{"x":{"field":"t","type":"quantitative","scale":{"domain":[0,20],"nice":false,"zero":false},"axis":{"values":[0,0.2,0.4,0.6,0.8,1,1.2,1.4,1.6,1.8,2,2.2,2.4,2.6,2.8,3,3.2,3.4,3.6,3.8,4,4.2,4.4,4.6,4.8,5,5.2,5.4,5.6,5.8,6,6.2,6.4,6.6,6.8,7,7.2,7.4,7.6,7.8,8,8.2,8.4,8.6,8.8,9,9.2,9.4,9.6,9.8,10,10.2,10.4,10.6,10.8,11,11.2,11.4,11.6,11.8,12,12.2,12.4,12.6,12.8,13,13.2,13.4,13.6,13.8,14,14.2,14.4,14.6,14.8,15,15.2,15.4,15.6,15.8,16,16.2,16.4,16.6,16.8,17,17.2,17.4,17.6,17.8,18,18.2,18.4,18.6,18.8,19,19.2,19.4,19.6,19.8,20],"labelExpr":"datum.value % 1 === 0 ? format(datum.value, 'd') : ''","labelOverlap":false,"labelFlush":false,"tickSize":6,"labelPadding":2,"title":"Time (min)","titleAnchor":"end","titleAlign":"right","titlePadding":9,"titleX":666}},"y":{"field":"v","type":"quantitative","scale":{"domain":[0,100],"nice":false},"axis":{"values":[0,10,20,30,40,50,60,70,80,90,100],"labelExpr":"datum.value % 50 === 0 ? datum.label : ''","labelOverlap":false,"tickSize":5,"labelPadding":-2,"title":null}}},
"layer":[
{"data":{"name":"fr"},"transform":[{"filter":"datum.p==='r6'"}],"mark":{"type":"rule","color":"#d2d2d2","strokeWidth":1},"encoding":{"y":{"field":"a","type":"quantitative"},"y2":{"field":"b"},"x2":{"field":"t2"}}},
{"data":{"name":"tr"},"transform":[{"filter":"datum.s==='r6'"}],"mark":{"type":"line","color":"#b050b8","strokeWidth":1,"interpolate":"monotone"}},
{"data":{"name":"lb"},"transform":[{"filter":"datum.s==='r6' && datum.k==='n'"}],"mark":{"type":"text","fontSize":12,"color":"#222222"},"encoding":{"text":{"field":"txt"}}},
{"data":{"name":"lb"},"transform":[{"filter":"datum.s==='r6' && datum.k==='c'"}],"mark":{"type":"text","fontSize":13,"fontWeight":"bold","color":"#8b168b"},"encoding":{"text":{"field":"txt"}}}
]}
]}
],
"config":{
"view":{"stroke":null},
"font":"Liberation Sans",
"axis":{"grid":false,"domainColor":"#333333","tickColor":"#333333","labelColor":"#222222","labelFontSize":12,"labelFont":"Liberation Sans","titleFont":"Liberation Sans","titleColor":"#111111","titleFontWeight":"bold","titleFontSize":12,"domainWidth":1,"tickWidth":1},
"text":{"font":"Liberation Sans"}
}
}
